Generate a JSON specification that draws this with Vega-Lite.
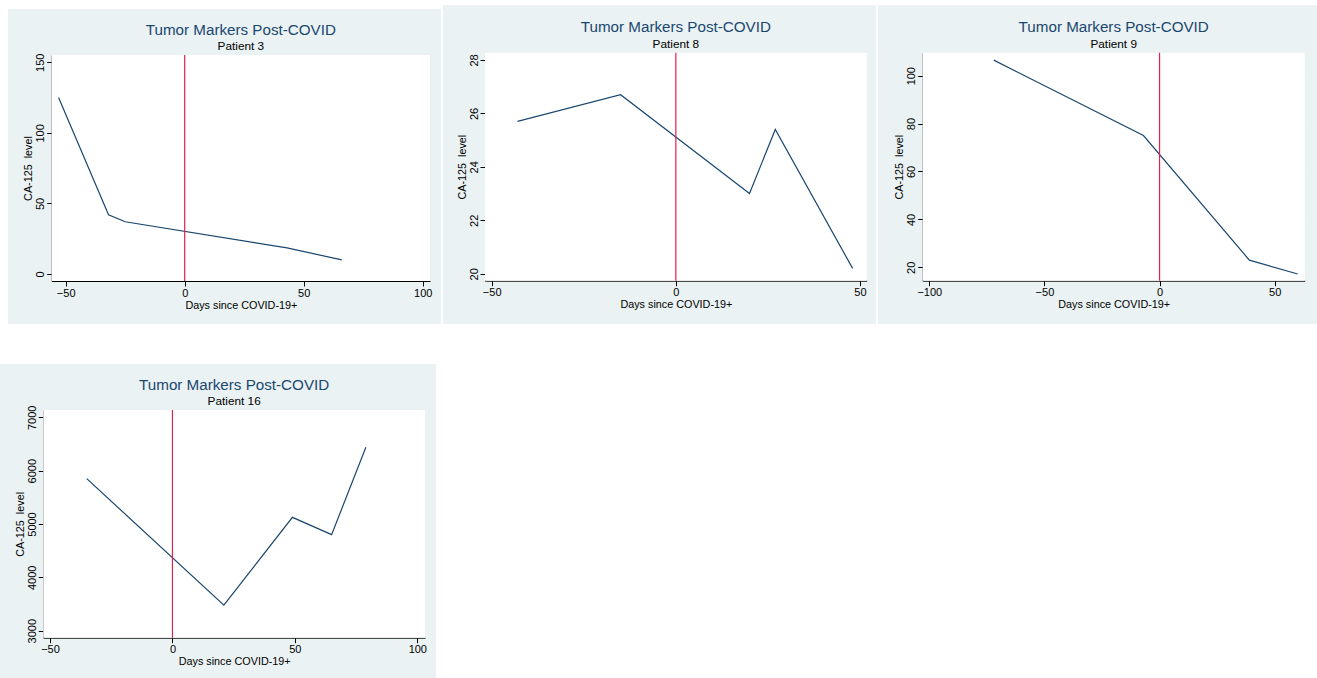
{
  "$schema": "https://vega.github.io/schema/vega-lite/v6.json",
  "background": "#FFFFFF",
  "padding": {"left": 0, "top": 5, "right": 0, "bottom": 0},
  "datasets": {
    "p3": [
      {"days": -53, "level": 125},
      {"days": -32, "level": 42},
      {"days": -25, "level": 37},
      {"days": 43, "level": 18.5},
      {"days": 66, "level": 10}
    ],
    "p8": [
      {"days": -43, "level": 25.7},
      {"days": -15, "level": 26.7},
      {"days": 20, "level": 23.0},
      {"days": 27, "level": 25.4},
      {"days": 48, "level": 20.2}
    ],
    "p9": [
      {"days": -72, "level": 106.5},
      {"days": -7, "level": 75},
      {"days": 39, "level": 23},
      {"days": 60, "level": 17.2}
    ],
    "p16": [
      {"days": -35, "level": 5850},
      {"days": 21, "level": 3480},
      {"days": 49, "level": 5125},
      {"days": 65, "level": 4800},
      {"days": 79, "level": 6440}
    ]
  },
  "spacing": 40,
  "vconcat": [
    {
      "spacing": 2,
      "hconcat": [
        {
          "width": 6, "height": 10,
          "data": {"values": [{}]},
          "mark": {"type": "point", "opacity": 0, "size": 0},
          "view": {"fill": null, "stroke": null}
        },
        {
          "spacing": 2,
          "vconcat": [
            {
              "width": 433, "height": 2,
              "data": {"values": [{}]},
              "mark": {"type": "point", "opacity": 0, "size": 0},
              "view": {"fill": null, "stroke": null}
            },
            {
              "width": 433, "height": 315,
              "view": {"fill": "#EAF2F3", "stroke": null},
              "title": {"text": "Tumor Markers Post-COVID", "subtitle": "Patient 3", "offset": -44.2, "dx": 16.35},
              "layer": [
                {
                  "data": {"values": [{}]},
                  "mark": {"type": "rect", "fill": "#FFFFFF"},
                  "encoding": {
                    "x": {"datum": -55.88, "type": "quantitative",
                      "scale": {"domain": [-55.88, 103.07], "range": [43.7, 422], "nice": false, "zero": false},
                      "axis": {"title": "Days since COVID-19+", "values": [-50, 0, 50, 100], "offset": -43}},
                    "x2": {"datum": 103.07},
                    "y": {"datum": -4.96, "type": "quantitative",
                      "scale": {"domain": [-4.96, 155.17], "range": [272, 46], "nice": false, "zero": false},
                      "axis": {"title": "CA-125\u00a0 level", "values": [0, 50, 100, 150], "offset": -43.7}},
                    "y2": {"datum": 155.17}
                  }
                },
                {
                  "data": {"name": "p3"},
                  "mark": {"type": "line", "color": "#1A476F", "strokeWidth": 1.2},
                  "encoding": {
                    "x": {"field": "days", "type": "quantitative",
                      "scale": {"domain": [-55.88, 103.07], "range": [43.7, 422], "nice": false, "zero": false},
                      "axis": {"title": "Days since COVID-19+", "values": [-50, 0, 50, 100], "offset": -43}},
                    "y": {"field": "level", "type": "quantitative",
                      "scale": {"domain": [-4.96, 155.17], "range": [272, 46], "nice": false, "zero": false},
                      "axis": {"title": "CA-125\u00a0 level", "values": [0, 50, 100, 150], "offset": -43.7}}
                  }
                },
                {
                  "data": {"values": [{}]},
                  "mark": {"type": "rule", "color": "#E3204E", "strokeWidth": 1.2},
                  "encoding": {
                    "x": {"datum": 0, "type": "quantitative",
                      "scale": {"domain": [-55.88, 103.07], "range": [43.7, 422], "nice": false, "zero": false},
                      "axis": {"title": "Days since COVID-19+", "values": [-50, 0, 50, 100], "offset": -43}},
                    "y": {"datum": -4.96, "type": "quantitative",
                      "scale": {"domain": [-4.96, 155.17], "range": [272, 46], "nice": false, "zero": false},
                      "axis": {"title": "CA-125\u00a0 level", "values": [0, 50, 100, 150], "offset": -43.7}},
                    "y2": {"datum": 155.17}
                  }
                }
              ]
            }
          ]
        },
        {
          "width": 433, "height": 319,
          "view": {"fill": "#EAF2F3", "stroke": null},
          "title": {"text": "Tumor Markers Post-COVID", "subtitle": "Patient 8", "offset": -45.8, "dx": 16.35},
          "layer": [
            {
              "data": {"values": [{}]},
              "mark": {"type": "rect", "fill": "#FFFFFF"},
              "encoding": {
                "x": {"datum": -51.82, "type": "quantitative",
                  "scale": {"domain": [-51.82, 51.82], "range": [42, 423.7], "nice": false, "zero": false},
                  "axis": {"title": "Days since COVID-19+", "values": [-50, 0, 50], "offset": -43.3}},
                "x2": {"datum": 51.82},
                "y": {"datum": 19.74, "type": "quantitative",
                  "scale": {"domain": [19.74, 28.27], "range": [275.7, 47.7], "nice": false, "zero": false},
                  "axis": {"title": "CA-125\u00a0 level", "values": [20, 22, 24, 26, 28], "offset": -42}},
                "y2": {"datum": 28.27}
              }
            },
            {
              "data": {"name": "p8"},
              "mark": {"type": "line", "color": "#1A476F", "strokeWidth": 1.2},
              "encoding": {
                "x": {"field": "days", "type": "quantitative",
                  "scale": {"domain": [-51.82, 51.82], "range": [42, 423.7], "nice": false, "zero": false},
                  "axis": {"title": "Days since COVID-19+", "values": [-50, 0, 50], "offset": -43.3}},
                "y": {"field": "level", "type": "quantitative",
                  "scale": {"domain": [19.74, 28.27], "range": [275.7, 47.7], "nice": false, "zero": false},
                  "axis": {"title": "CA-125\u00a0 level", "values": [20, 22, 24, 26, 28], "offset": -42}}
              }
            },
            {
              "data": {"values": [{}]},
              "mark": {"type": "rule", "color": "#E3204E", "strokeWidth": 1.2},
              "encoding": {
                "x": {"datum": 0, "type": "quantitative",
                  "scale": {"domain": [-51.82, 51.82], "range": [42, 423.7], "nice": false, "zero": false},
                  "axis": {"title": "Days since COVID-19+", "values": [-50, 0, 50], "offset": -43.3}},
                "y": {"datum": 19.74, "type": "quantitative",
                  "scale": {"domain": [19.74, 28.27], "range": [275.7, 47.7], "nice": false, "zero": false},
                  "axis": {"title": "CA-125\u00a0 level", "values": [20, 22, 24, 26, 28], "offset": -42}},
                "y2": {"datum": 28.27}
              }
            }
          ]
        },
        {
          "width": 439, "height": 319,
          "view": {"fill": "#EAF2F3", "stroke": null},
          "title": {"text": "Tumor Markers Post-COVID", "subtitle": "Patient 9", "offset": -45.8, "dx": 16.2},
          "layer": [
            {
              "data": {"values": [{}]},
              "mark": {"type": "rect", "fill": "#FFFFFF"},
              "encoding": {
                "x": {"datum": -102.87, "type": "quantitative",
                  "scale": {"domain": [-102.87, 63.03], "range": [44.7, 426.7], "nice": false, "zero": false},
                  "axis": {"title": "Days since COVID-19+", "values": [-100, -50, 0, 50], "offset": -43.3}},
                "x2": {"datum": 63.03},
                "y": {"datum": 14.4, "type": "quantitative",
                  "scale": {"domain": [14.4, 109.6], "range": [275.7, 47.7], "nice": false, "zero": false},
                  "axis": {"title": "CA-125\u00a0 level", "values": [20, 40, 60, 80, 100], "offset": -44.7}},
                "y2": {"datum": 109.6}
              }
            },
            {
              "data": {"name": "p9"},
              "mark": {"type": "line", "color": "#1A476F", "strokeWidth": 1.2},
              "encoding": {
                "x": {"field": "days", "type": "quantitative",
                  "scale": {"domain": [-102.87, 63.03], "range": [44.7, 426.7], "nice": false, "zero": false},
                  "axis": {"title": "Days since COVID-19+", "values": [-100, -50, 0, 50], "offset": -43.3}},
                "y": {"field": "level", "type": "quantitative",
                  "scale": {"domain": [14.4, 109.6], "range": [275.7, 47.7], "nice": false, "zero": false},
                  "axis": {"title": "CA-125\u00a0 level", "values": [20, 40, 60, 80, 100], "offset": -44.7}}
              }
            },
            {
              "data": {"values": [{}]},
              "mark": {"type": "rule", "color": "#E3204E", "strokeWidth": 1.2},
              "encoding": {
                "x": {"datum": 0, "type": "quantitative",
                  "scale": {"domain": [-102.87, 63.03], "range": [44.7, 426.7], "nice": false, "zero": false},
                  "axis": {"title": "Days since COVID-19+", "values": [-100, -50, 0, 50], "offset": -43.3}},
                "y": {"datum": 14.4, "type": "quantitative",
                  "scale": {"domain": [14.4, 109.6], "range": [275.7, 47.7], "nice": false, "zero": false},
                  "axis": {"title": "CA-125\u00a0 level", "values": [20, 40, 60, 80, 100], "offset": -44.7}},
                "y2": {"datum": 109.6}
              }
            }
          ]
        }
      ]
    },
    {
      "width": 436, "height": 314,
      "view": {"fill": "#EAF2F3", "stroke": null},
      "title": {"text": "Tumor Markers Post-COVID", "subtitle": "Patient 16", "offset": -44.2, "dx": 16.15},
      "layer": [
        {
          "data": {"values": [{}]},
          "mark": {"type": "rect", "fill": "#FFFFFF"},
          "encoding": {
            "x": {"datum": -52.74, "type": "quantitative",
              "scale": {"domain": [-52.74, 103.14], "range": [43.3, 425], "nice": false, "zero": false},
              "axis": {"title": "Days since COVID-19+", "values": [-50, 0, 50, 100], "offset": -40.3}},
            "x2": {"datum": 103.14},
            "y": {"datum": 2868.8, "type": "quantitative",
              "scale": {"domain": [2868.8, 7136.8], "range": [273.7, 46], "nice": false, "zero": false},
              "axis": {"title": "CA-125\u00a0 level", "values": [3000, 4000, 5000, 6000, 7000], "format": "d", "offset": -43.3}},
            "y2": {"datum": 7136.8}
          }
        },
        {
          "data": {"name": "p16"},
          "mark": {"type": "line", "color": "#1A476F", "strokeWidth": 1.2},
          "encoding": {
            "x": {"field": "days", "type": "quantitative",
              "scale": {"domain": [-52.74, 103.14], "range": [43.3, 425], "nice": false, "zero": false},
              "axis": {"title": "Days since COVID-19+", "values": [-50, 0, 50, 100], "offset": -40.3}},
            "y": {"field": "level", "type": "quantitative",
              "scale": {"domain": [2868.8, 7136.8], "range": [273.7, 46], "nice": false, "zero": false},
              "axis": {"title": "CA-125\u00a0 level", "values": [3000, 4000, 5000, 6000, 7000], "format": "d", "offset": -43.3}}
          }
        },
        {
          "data": {"values": [{}]},
          "mark": {"type": "rule", "color": "#E3204E", "strokeWidth": 1.2},
          "encoding": {
            "x": {"datum": 0, "type": "quantitative",
              "scale": {"domain": [-52.74, 103.14], "range": [43.3, 425], "nice": false, "zero": false},
              "axis": {"title": "Days since COVID-19+", "values": [-50, 0, 50, 100], "offset": -40.3}},
            "y": {"datum": 2868.8, "type": "quantitative",
              "scale": {"domain": [2868.8, 7136.8], "range": [273.7, 46], "nice": false, "zero": false},
              "axis": {"title": "CA-125\u00a0 level", "values": [3000, 4000, 5000, 6000, 7000], "format": "d", "offset": -43.3}},
            "y2": {"datum": 7136.8}
          }
        }
      ]
    }
  ],
  "config": {
    "view": {"stroke": null},
    "title": {
      "font": "Liberation Sans", "fontSize": 15.2, "fontWeight": "normal", "color": "#1A476F",
      "subtitleFont": "Liberation Sans", "subtitleFontSize": 11.8, "subtitleColor": "#000000",
      "subtitlePadding": 3.7, "anchor": "middle", "frame": "group"
    },
    "axis": {
      "labelFont": "Liberation Sans", "labelFontSize": 11, "labelColor": "#000000",
      "titleFont": "Liberation Sans", "titleFontSize": 10.8, "titleFontWeight": "normal", "titleColor": "#000000",
      "domainColor": "#000000", "domainWidth": 1, "tickColor": "#000000", "tickWidth": 1, "tickSize": 5,
      "gridColor": "#E4ECEF", "gridWidth": 1, "zindex": 1, "labelFlush": false, "labelOverlap": false
    },
    "axisX": {"grid": false, "labelAngle": 0, "labelPadding": 1.2, "titlePadding": 1},
    "axisY": {"grid": true, "labelAngle": -90, "labelAlign": "center", "labelBaseline": "bottom", "labelPadding": 1, "titlePadding": 1}
  }
}
